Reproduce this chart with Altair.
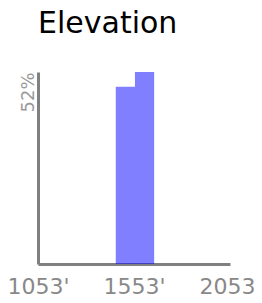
import altair as alt
import pandas as pd

bin_start = [1458, 1558]
bin_end = [1558, 1658]
share = [0.48, 0.52]
x_ticks = [1053, 1553, 2053]
y_ticks = [0.52]
title_text = ["Elevation"]

df = pd.DataFrame({"start": bin_start, "end": bin_end, "share": share, "base": [0, 0]})
tdf = pd.DataFrame({"t": title_text})

FONT = "DejaVu Sans"

bars = (
    alt.Chart(df)
    .mark_rect(color="#0000ff", opacity=0.5)
    .encode(
        x=alt.X(
            "start:Q",
            scale=alt.Scale(domain=[1053, 2053], nice=False, zero=False),
            axis=alt.Axis(
                values=x_ticks,
                labelExpr="datum.value + \"'\"",
                title=None,
                grid=False,
                ticks=False,
                tickSize=0,
                domainColor="#808080",
                domainWidth=3,
                labelColor="#888888",
                labelFont=FONT,
                labelFontSize=22,
                labelPadding=12,
                labelFlush=False,
                labelOverlap=False,
            ),
        ),
        x2="end:Q",
        y=alt.Y(
            "share:Q",
            scale=alt.Scale(domain=[0, 0.52], nice=False),
            axis=alt.Axis(
                values=y_ticks,
                format=".0%",
                title=None,
                grid=False,
                ticks=False,
                tickSize=0,
                domainColor="#808080",
                domainWidth=3,
                labelColor="#999999",
                labelFont=FONT,
                labelFontSize=18,
                labelAngle=-90,
                labelAlign="right",
                labelBaseline="alphabetic",
                labelPadding=5,
                labelFlush=False,
                labelOverlap=False,
            ),
        ),
        y2="base:Q",
    )
)

title = (
    alt.Chart(tdf)
    .mark_text(
        font=FONT,
        fontSize=30,
        color="#000000",
        align="left",
        baseline="alphabetic",
    )
    .encode(text="t:N", x=alt.value(0), y=alt.value(-39))
)

chart = (
    alt.layer(bars, title)
    .properties(
        width=192,
        height=192,
        autosize=alt.AutoSizeParams(type="none"),
        padding={"left": 30, "top": 64, "right": 24, "bottom": 31},
    )
    .configure_view(stroke=None)
)

chart.save("out.html", embed_options={"renderer": "svg", "actions": False})
